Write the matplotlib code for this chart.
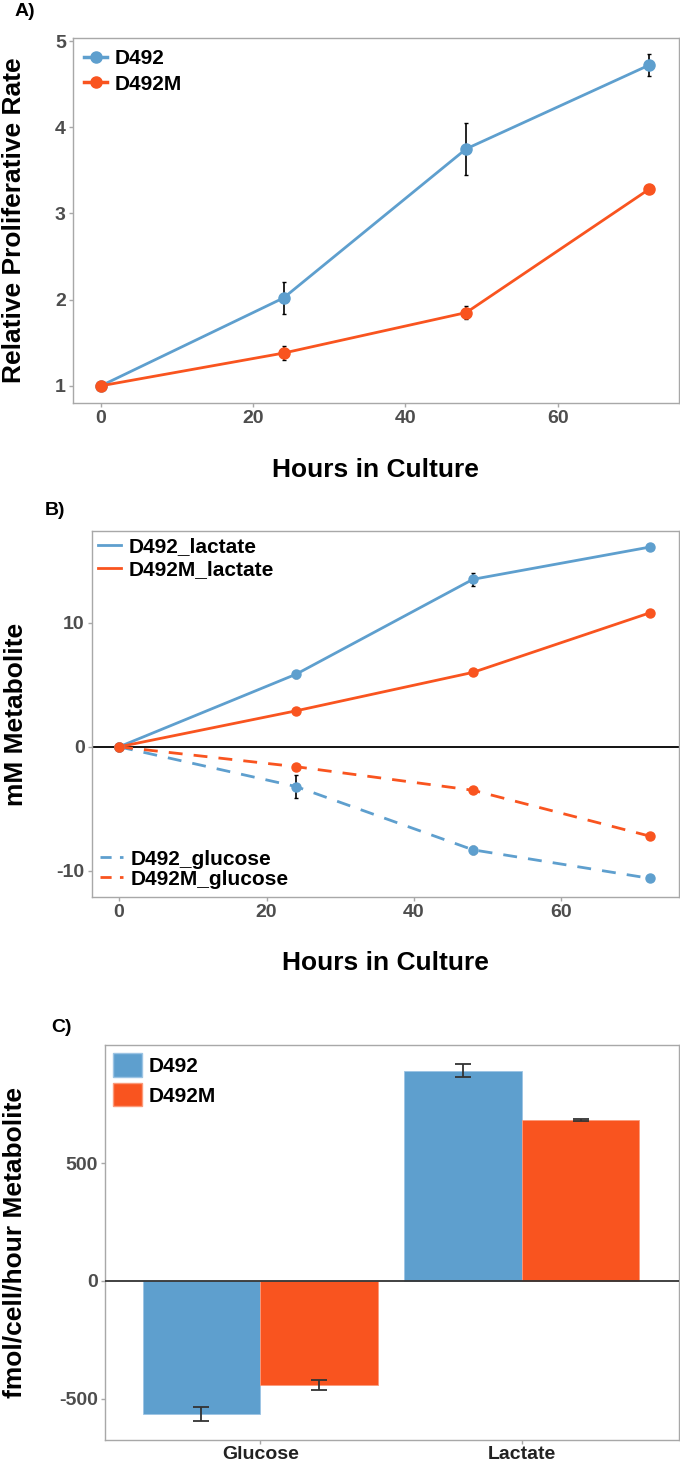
import matplotlib
matplotlib.use('Agg')
import matplotlib.pyplot as plt
import numpy as np
from matplotlib.lines import Line2D
from matplotlib.patches import Patch

plt.rcParams['font.family'] = ['Liberation Sans', 'DejaVu Sans']
plt.rcParams['axes.unicode_minus'] = False

BLUE = '#5E9FCE'
ORANGE = '#F9541F'
TICK_GREY = '#4D4D4D'
SPINE_GREY = '#A8A8A8'

# A) proliferation
hours = [0, 24, 48, 72]
d492_rate = [1.0, 2.02, 3.75, 4.72]
d492_rate_err = [0.01, 0.19, 0.30, 0.13]
d492m_rate = [1.0, 1.38, 1.85, 3.28]
d492m_rate_err = [0.01, 0.08, 0.08, 0.03]

# B) metabolites over time
d492_lactate = [0.0, 5.85, 13.5, 16.1]
d492_lactate_err = [0.1, 0.3, 0.5, 0.15]
d492m_lactate = [0.0, 2.9, 6.0, 10.8]
d492m_lactate_err = [0.1, 0.2, 0.25, 0.2]
d492_glucose = [0.0, -3.2, -8.3, -10.6]
d492_glucose_err = [0.1, 0.95, 0.3, 0.15]
d492m_glucose = [0.0, -1.6, -3.5, -7.2]
d492m_glucose_err = [0.1, 0.2, 0.2, 0.2]

# C) rates per cell
metabolites = ['Glucose', 'Lactate']
d492_flux = [-563, 892]
d492_flux_err = [29, 26]
d492m_flux = [-440, 681]
d492m_flux_err = [22, 5]

fig = plt.figure(figsize=(6.8, 14.63), dpi=100)
LEG_PROP = {'weight': 'bold', 'size': 15}


def style_axes(ax):
    for s in ax.spines.values():
        s.set_color(SPINE_GREY)
        s.set_linewidth(1.0)
    ax.tick_params(axis='both', colors=SPINE_GREY, length=3, width=1.0,
                   labelsize=14, labelcolor=TICK_GREY, pad=2)
    for lab in ax.get_xticklabels() + ax.get_yticklabels():
        lab.set_fontweight('bold')


# ---- Panel A
axA = fig.add_axes([0.107, 0.7245, 0.891, 0.2495])
axA.errorbar(hours, d492_rate, yerr=d492_rate_err, color=BLUE, lw=2,
             marker='o', ms=8, ecolor='black', elinewidth=1.2, capsize=1.5,
             zorder=3)
axA.errorbar(hours, d492m_rate, yerr=d492m_rate_err, color=ORANGE, lw=2,
             marker='o', ms=8, ecolor='black', elinewidth=1.2, capsize=1.5,
             zorder=3)
axA.set_xlim(-3.7, 75.9)
axA.set_ylim(0.8, 5.035)
axA.set_xticks([0, 20, 40, 60])
axA.set_yticks([1, 2, 3, 4, 5])
style_axes(axA)
axA.set_xlabel('Hours in Culture', fontsize=19, fontweight='bold', labelpad=22)
axA.set_ylabel('Relative Proliferative Rate', fontsize=19, fontweight='bold',
               labelpad=21)
handlesA = [Line2D([], [], color=BLUE, lw=2.5, marker='o', ms=8),
            Line2D([], [], color=ORANGE, lw=2.5, marker='o', ms=8)]
axA.legend(handlesA, ['D492', 'D492M'], loc='upper left', frameon=False,
           prop=LEG_PROP, handlelength=1.1, borderaxespad=0.25,
           labelspacing=0.3, handletextpad=0.35, borderpad=0.3)
fig.text(0.037, 0.992, 'A)', fontsize=14, fontweight='bold', va='center',
         ha='center')

# ---- Panel B
axB = fig.add_axes([0.135, 0.3869, 0.863, 0.2502])
axB.axhline(0, color='black', lw=1.3, zorder=1)
for vals, errs, col, ls in [(d492_lactate, d492_lactate_err, BLUE, '-'),
                            (d492m_lactate, d492m_lactate_err, ORANGE, '-'),
                            (d492_glucose, d492_glucose_err, BLUE, '--'),
                            (d492m_glucose, d492m_glucose_err, ORANGE, '--')]:
    axB.plot(hours, vals, color=col, lw=2, ls=ls, zorder=2,
             dashes=(5, 4) if ls == '--' else (None, None))
    axB.errorbar(hours, vals, yerr=errs, fmt='o', color=col, ms=6.5,
                 ecolor='black', elinewidth=1.2, capsize=1.2, zorder=3)
axB.set_xlim(-3.7, 75.9)
axB.set_ylim(-12.1, 17.4)
axB.set_xticks([0, 20, 40, 60])
axB.set_yticks([-10, 0, 10])
style_axes(axB)
axB.set_xlabel('Hours in Culture', fontsize=19, fontweight='bold', labelpad=22)
axB.set_ylabel('mM Metabolite', fontsize=19, fontweight='bold', labelpad=21)
legB1 = axB.legend([Line2D([], [], color=BLUE, lw=2),
                    Line2D([], [], color=ORANGE, lw=2)],
                   ['D492_lactate', 'D492M_lactate'], loc='upper left',
                   frameon=False, prop=LEG_PROP, handlelength=1.1,
                   borderaxespad=0.1, labelspacing=0.2, handletextpad=0.35,
                   borderpad=0.2)
axB.add_artist(legB1)
axB.legend([Line2D([], [], color=BLUE, lw=2, dashes=(4, 3)),
            Line2D([], [], color=ORANGE, lw=2, dashes=(4, 3))],
           ['D492_glucose', 'D492M_glucose'], loc='lower left',
           frameon=False, prop=LEG_PROP, handlelength=1.1,
           borderaxespad=0.1, labelspacing=0.05, handletextpad=0.35,
           borderpad=0.3)
fig.text(0.081, 0.651, 'B)', fontsize=14, fontweight='bold', va='center',
         ha='center')

# ---- Panel C
axC = fig.add_axes([0.154, 0.0157, 0.844, 0.27])
x = np.arange(len(metabolites))
w = 0.45
axC.bar(x - w / 2, d492_flux, w, color=BLUE, edgecolor='#9CC4E4', lw=0.6,
        zorder=2)
axC.bar(x + w / 2, d492m_flux, w, color=ORANGE, edgecolor='#FB9A7A', lw=0.6,
        zorder=2)
axC.errorbar(x - w / 2, d492_flux, yerr=d492_flux_err, fmt='none',
             ecolor='#333333', elinewidth=1.3, capsize=6, capthick=1.3,
             zorder=3)
axC.errorbar(x + w / 2, d492m_flux, yerr=d492m_flux_err, fmt='none',
             ecolor='#333333', elinewidth=1.3, capsize=6, capthick=1.3,
             zorder=3)
axC.axhline(0, color='#333333', lw=1.3, zorder=3)
axC.set_xlim(-0.595, 1.6)
axC.set_ylim(-674, 1000)
axC.set_xticks(x)
axC.set_xticklabels(metabolites)
axC.set_yticks([-500, 0, 500])
style_axes(axC)
axC.tick_params(axis='x', labelsize=14, labelcolor='#222222', pad=1)
axC.set_ylabel('fmol/cell/hour Metabolite', fontsize=19, fontweight='bold',
               labelpad=23)
axC.legend([Patch(facecolor=BLUE, edgecolor='#9CC4E4'),
            Patch(facecolor=ORANGE, edgecolor='#FB9A7A')],
           ['D492', 'D492M'], loc='upper left', frameon=False,
           prop=LEG_PROP, handlelength=1.4, handleheight=1.35,
           borderaxespad=0.1, labelspacing=0.3, handletextpad=0.3,
           borderpad=0.3)
fig.text(0.091, 0.298, 'C)', fontsize=14, fontweight='bold', va='center',
         ha='center')

fig.savefig('out.png', dpi=100)
